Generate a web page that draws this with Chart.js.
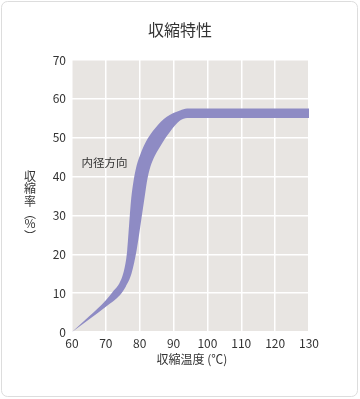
<!DOCTYPE html>
<html>
<head>
<meta charset="utf-8">
<script src="https://cdn.jsdelivr.net/npm/chart.js@4/dist/chart.umd.min.js"></script>
<style>
  html, body { margin: 0; padding: 0; background: #fff; }
  #wrap { width: 360px; height: 399px; }
</style>
</head>
<body>
<div id="wrap"><canvas id="chart" width="360" height="399"></canvas></div>
<script>
const titleText = "収縮特性";
const xTitle = "収縮温度 (℃)";
const yTitleChars = ["収", "縮", "率", "︵", "%", "︶"];
const noteText = "内径方向";

// upper (left) edge of the band
const upperX = [60, 65, 70, 72, 74.2, 75.6, 76.3, 76.9, 77.5, 78.2, 79, 79.6, 81.6, 84.5, 88, 91.9, 94, 130];
const upperY = [0, 4, 8.2, 10.3, 12.9, 16.8, 21, 28, 34.5, 39, 42.5, 44.3, 48.6, 52.4, 55.4, 57, 57.5, 57.5];
// lower (right) edge of the band
const lowerX = [60, 65, 70, 74.2, 75.9, 77.6, 79.1, 80.6, 81.5, 82.3, 83.5, 86, 88.9, 91.9, 94, 130];
const lowerY = [0, 3.2, 6.5, 9.5, 11.7, 15.1, 21.1, 29.7, 35, 39.5, 43.4, 47.7, 51.5, 54.4, 55.1, 55.1];

const xTicks = [60, 70, 80, 90, 100, 110, 120, 130];
const yTicks = [0, 10, 20, 30, 40, 50, 60, 70];

const cjk = '"Noto Sans CJK JP", "Noto Sans", sans-serif';
const bandColor = "#8e8bc4";

const pts = (xs, ys) => xs.map((x, i) => ({ x: x, y: ys[i] }));

const decor = {
  id: "decor",
  beforeDraw(chart) {
    const c = chart.ctx;
    const a = chart.chartArea;
    c.save();
    c.fillStyle = "#fff";
    c.fillRect(0, 0, chart.width, chart.height);
    c.strokeStyle = "#dddddd";
    c.lineWidth = 1;
    c.beginPath();
    c.roundRect(1.5, 1.5, 356, 395, 6);
    c.stroke();
    c.fillStyle = "#e8e5e2";
    c.fillRect(a.left, a.top, a.right - a.left, a.bottom - a.top);
    c.restore();
  },
  afterDraw(chart) {
    const c = chart.ctx;
    const xs = chart.scales.x, ys = chart.scales.y;
    c.save();
    c.fillStyle = "#333";
    c.textAlign = "center";
    c.textBaseline = "middle";
    c.font = "16px " + cjk;
    c.fillText(titleText, 180, 30);
    c.font = "12px " + cjk;
    c.fillText(xTitle, 192, 359);
    let yy = 176;
    yTitleChars.forEach(ch => {
      c.fillText(ch, 30, yy);
      yy += ch === "︵" || ch === "︶" ? 10 : 12.5;
    });
    c.font = "11.5px " + cjk;
    c.fillText(noteText, xs.getPixelForValue(69.6), ys.getPixelForValue(43.6));
    c.restore();
  }
};

new Chart(document.getElementById("chart"), {
  type: "line",
  data: {
    datasets: [
      {
        data: pts(lowerX, lowerY),
        borderWidth: 0,
        pointRadius: 0,
        borderColor: bandColor,
        cubicInterpolationMode: "monotone",
        fill: false
      },
      {
        data: pts(upperX, upperY),
        borderWidth: 0,
        pointRadius: 0,
        borderColor: bandColor,
        backgroundColor: bandColor,
        cubicInterpolationMode: "monotone",
        fill: "-1"
      }
    ]
  },
  options: {
    responsive: false,
    animation: false,
    layout: { padding: { left: 40, right: 51, top: 60, bottom: 47 } },
    plugins: { legend: { display: false }, tooltip: { enabled: false } },
    scales: {
      x: {
        type: "linear",
        min: 60,
        max: 130,
        afterFit: s => { s.height = 20; },
        afterBuildTicks: s => { s.ticks = xTicks.map(v => ({ value: v })); },
        grid: { color: "#fff", lineWidth: 1.5, drawTicks: false },
        border: { display: false },
        ticks: { color: "#333", padding: 4, font: { family: cjk, size: 12 } }
      },
      y: {
        min: 0,
        max: 70,
        afterFit: s => { s.width = 32; },
        afterBuildTicks: s => { s.ticks = yTicks.map(v => ({ value: v })); },
        grid: { color: "#fff", lineWidth: 1.5, drawTicks: false },
        border: { display: false },
        ticks: { color: "#333", padding: 6, font: { family: cjk, size: 12 } }
      }
    }
  },
  plugins: [decor]
});
</script>
</body>
</html>
